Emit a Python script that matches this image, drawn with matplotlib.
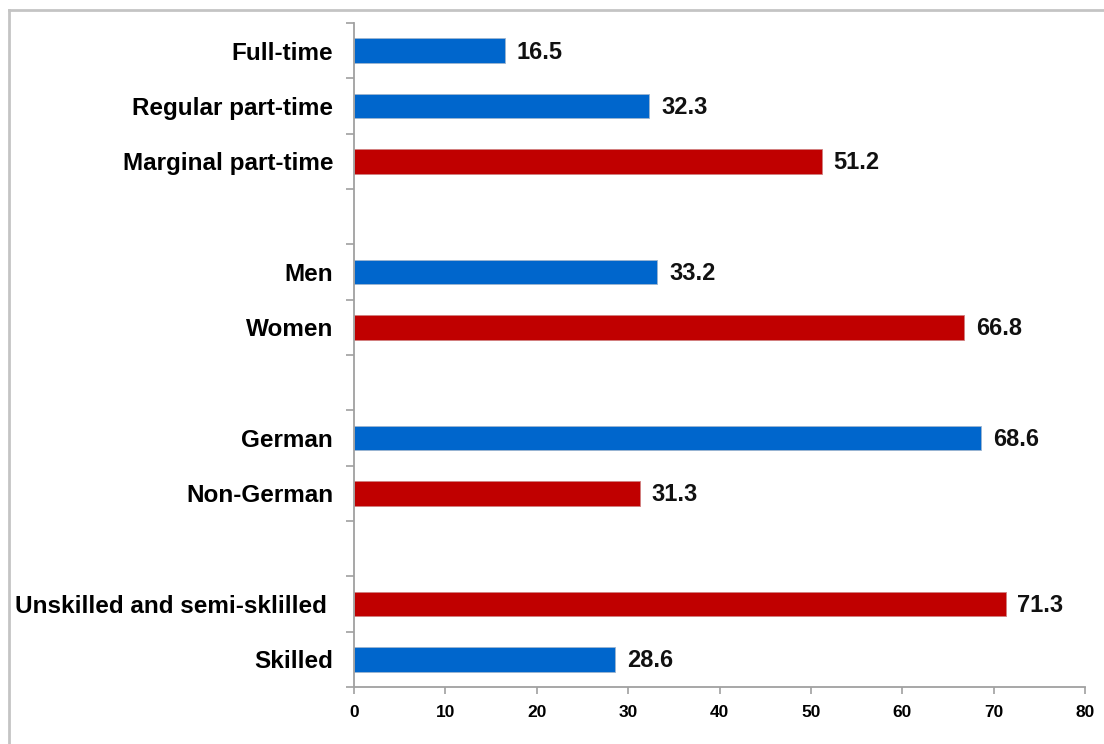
import numpy as np
import matplotlib.pyplot as plt
from matplotlib.lines import Line2D

plt.rcParams['font.family'] = ['Liberation Sans', 'DejaVu Sans']

# data (empty strings / None are spacer rows between groups)
categories = ['Full-time', 'Regular part-time', 'Marginal part-time', '',
              'Men', 'Women', '',
              'German', 'Non-German', '',
              'Unskilled and semi-sklilled ', 'Skilled']
values = [16.5, 32.3, 51.2, None,
          33.2, 66.8, None,
          68.6, 31.3, None,
          71.3, 28.6]
bar_colors = ['#0066CC', '#0066CC', '#C00000', None,
              '#0066CC', '#C00000', None,
              '#0066CC', '#C00000', None,
              '#C00000', '#0066CC']
x_ticks = [0, 10, 20, 30, 40, 50, 60, 70, 80]

fig = plt.figure(figsize=(11.04, 7.44), dpi=100)
ax = fig.add_axes([354 / 1104, 1 - 687 / 744, 731 / 1104, 664 / 744])

pos = np.arange(len(categories))
for i, (v, c) in enumerate(zip(values, bar_colors)):
    if v is None:
        continue
    ax.barh(i, v, height=0.44, color=c, edgecolor='#9DB5CF' if c == '#0066CC' else '#D08080',
            linewidth=0.6)
    ax.text(v + 1.3, i + 0.03, '{:.1f}'.format(v), va='center', ha='left',
            fontsize=17, fontweight='bold', color='#111111')

ax.set_xlim(0, 80)
ax.set_ylim(len(categories) - 0.5, -0.5)

ax.set_xticks(x_ticks)
ax.set_xticklabels([str(t) for t in x_ticks], fontsize=12.5, fontweight='bold')

# boundary ticks without labels, category labels on minor ticks
ax.set_yticks(np.arange(len(categories) + 1) - 0.5)
ax.set_yticklabels([])
ax.set_yticks(pos, minor=True)
ax.set_yticklabels(categories, minor=True, fontsize=17.5, fontweight='bold')
ax.tick_params(axis='y', which='minor', length=0, pad=15)
ax.tick_params(axis='y', which='major', length=6, width=1.2, color='#A0A0A0', direction='out')
ax.tick_params(axis='x', length=5, width=1.2, color='#A0A0A0', direction='out', pad=8)

for s in ['top', 'right']:
    ax.spines[s].set_visible(False)
for s in ['left', 'bottom']:
    ax.spines[s].set_color('#A0A0A0')
    ax.spines[s].set_linewidth(1.3)

# light frame around the chart area
fig.add_artist(Line2D([9 / 1104, 9 / 1104], [0, 1 - 9.5 / 744], transform=fig.transFigure,
                      color='#C4C4C4', linewidth=2))
fig.add_artist(Line2D([9 / 1104, 1], [1 - 9.5 / 744, 1 - 9.5 / 744], transform=fig.transFigure,
                      color='#C4C4C4', linewidth=2))

fig.savefig('out.png', dpi=100)
